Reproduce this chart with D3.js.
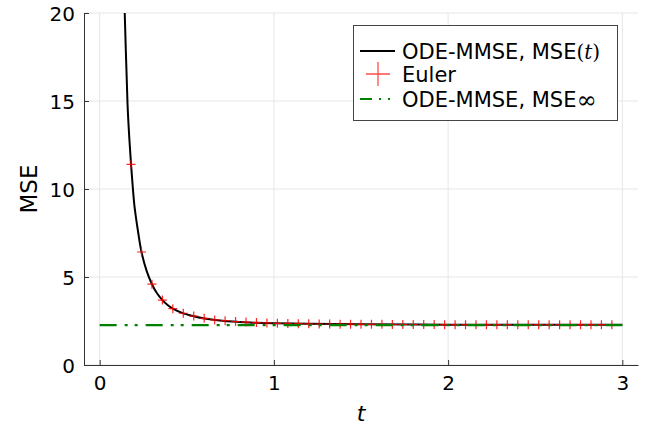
<!DOCTYPE html>
<html>
<head>
<meta charset="utf-8">
<script src="https://cdn.jsdelivr.net/npm/d3@7"></script>
<style>
  body { margin: 0; background: #fff; }
  text { font-family: "DejaVu Sans", sans-serif; }
</style>
</head>
<body>
<script>
// ODE-MMSE curve MSE(t)
const curveT = [0.13, 0.145, 0.16, 0.17, 0.18, 0.19, 0.20, 0.22, 0.24, 0.27, 0.30, 0.33, 0.36, 0.39, 0.42, 0.48, 0.54, 0.60, 0.66, 0.72, 0.80, 0.90, 1.0, 1.2, 1.5, 2.0, 2.5, 3.0];
const curveMSE = [25, 19.6, 14.8, 12.9, 11.4, 10.1, 9.0, 7.6, 6.42, 5.33, 4.59, 4.06, 3.69, 3.41, 3.2, 2.93, 2.77, 2.64, 2.56, 2.5, 2.45, 2.4, 2.37, 2.34, 2.31, 2.29, 2.285, 2.28];

// Euler steps (dt = 0.06)
const eulerT = [0.18, 0.24, 0.30, 0.36, 0.42, 0.48, 0.54, 0.60, 0.66, 0.72, 0.78, 0.84, 0.90, 0.96, 1.02, 1.08, 1.14, 1.20, 1.26, 1.32, 1.38, 1.44, 1.50, 1.56, 1.62, 1.68, 1.74, 1.80, 1.86, 1.92, 1.98, 2.04, 2.10, 2.16, 2.22, 2.28, 2.34, 2.40, 2.46, 2.52, 2.58, 2.64, 2.70, 2.76, 2.82, 2.88, 2.94];
const eulerMSE = [11.4, 6.42, 4.59, 3.69, 3.2, 2.94, 2.78, 2.65, 2.56, 2.52, 2.47, 2.44, 2.41, 2.39, 2.37, 2.36, 2.35, 2.34, 2.33, 2.33, 2.32, 2.32, 2.31, 2.31, 2.31, 2.3, 2.3, 2.3, 2.3, 2.3, 2.29, 2.29, 2.29, 2.29, 2.29, 2.29, 2.29, 2.29, 2.29, 2.29, 2.29, 2.29, 2.29, 2.29, 2.29, 2.29, 2.29];

// asymptote MSE_inf
const infT = [0, 3];
const infMSE = 2.27;

const xTicks = [0, 1, 2, 3];
const yTicks = [0, 5, 10, 15, 20];

let width = 654;
let height = 432;
let margin = { top: 13, right: 16, bottom: 67, left: 84 };

let svg = d3.select("body").append("svg")
  .attr("width", width)
  .attr("height", height);

let xScale = d3.scaleLinear()
  .domain([-0.09, 3.09])
  .range([margin.left, width - margin.right]);
let yScale = d3.scaleLinear()
  .domain([0, 20])
  .range([height - margin.bottom, margin.top]);

svg.append("defs").append("clipPath").attr("id", "clip")
  .append("rect")
  .attr("x", margin.left).attr("y", margin.top)
  .attr("width", width - margin.left - margin.right)
  .attr("height", height - margin.top - margin.bottom);

// grid
let grid = svg.append("g").attr("stroke", "#e6e6e6").attr("stroke-width", 1);
grid.selectAll(".gx").data(xTicks).join("line")
  .attr("x1", d => xScale(d)).attr("x2", d => xScale(d))
  .attr("y1", margin.top).attr("y2", height - margin.bottom);
grid.selectAll(".gy").data(yTicks).join("line")
  .attr("x1", margin.left).attr("x2", width - margin.right)
  .attr("y1", d => yScale(d)).attr("y2", d => yScale(d));

// axes
let xAxis = d3.axisBottom(xScale).tickValues(xTicks).tickFormat(d3.format("d"))
  .tickSizeInner(-5).tickSizeOuter(0).tickPadding(11);
let yAxis = d3.axisLeft(yScale).tickValues(yTicks).tickFormat(d3.format("d"))
  .tickSizeInner(-5).tickSizeOuter(0).tickPadding(9);

svg.append("g")
  .attr("transform", `translate(0, ${height - margin.bottom})`)
  .call(xAxis)
  .call(g => g.select(".domain").attr("stroke", "#333"))
  .call(g => g.selectAll(".tick line").attr("stroke", "#333"))
  .call(g => g.selectAll("text").attr("font-size", 20).attr("fill", "#000").attr("font-family", "DejaVu Sans"));

svg.append("g")
  .attr("transform", `translate(${margin.left}, 0)`)
  .call(yAxis)
  .call(g => g.select(".domain").attr("stroke", "#333"))
  .call(g => g.selectAll(".tick line").attr("stroke", "#333"))
  .call(g => g.selectAll("text").attr("font-size", 20).attr("fill", "#000").attr("font-family", "DejaVu Sans").attr("dy", "0.36em"));

// axis labels
svg.append("text")
  .attr("x", (margin.left + width - margin.right) / 2)
  .attr("y", 421)
  .attr("text-anchor", "middle")
  .attr("font-family", "DejaVu Serif")
  .attr("font-style", "italic")
  .attr("font-size", 22)
  .text("t");

svg.append("text")
  .attr("transform", `translate(37, ${(margin.top + height - margin.bottom) / 2}) rotate(-90)`)
  .attr("text-anchor", "middle")
  .attr("font-size", 23)
  .text("MSE");

let plot = svg.append("g").attr("clip-path", "url(#clip)");

// MSE(t) curve
let line = d3.line()
  .x((d, i) => xScale(curveT[i]))
  .y(d => yScale(d))
  .curve(d3.curveCatmullRom.alpha(0.5));
plot.append("path")
  .attr("d", line(curveMSE))
  .attr("fill", "none")
  .attr("stroke", "#000")
  .attr("stroke-width", 2);

// Euler markers
let cross = 4.5;
let markers = plot.append("g").attr("stroke", "#ff0000").attr("stroke-width", 1.2).attr("stroke-opacity", 0.85);
eulerMSE.forEach((v, i) => {
  let cx = xScale(eulerT[i]), cy = yScale(v);
  markers.append("path")
    .attr("d", `M${cx - cross},${cy}H${cx + cross}M${cx},${cy - cross}V${cy + cross}`);
});

// MSE_inf
plot.append("line")
  .attr("x1", xScale(infT[0])).attr("x2", xScale(infT[1]))
  .attr("y1", yScale(infMSE)).attr("y2", yScale(infMSE))
  .attr("stroke", "#008000")
  .attr("stroke-width", 2.2)
  .attr("stroke-dasharray", "17,8,3,7,3,8");

// legend
let lg = svg.append("g");
lg.append("rect")
  .attr("x", 353.5).attr("y", 25.5)
  .attr("width", 264).attr("height", 95)
  .attr("fill", "#fff").attr("stroke", "#444").attr("stroke-width", 1);

let rows = [51, 74, 99];
lg.append("line").attr("x1", 360).attr("x2", 395).attr("y1", rows[0]).attr("y2", rows[0])
  .attr("stroke", "#000").attr("stroke-width", 2);
lg.append("path")
  .attr("d", `M366,${rows[1]}H390M378,${rows[1] - 12}V${rows[1] + 12}`)
  .attr("stroke", "#ff0000").attr("stroke-opacity", 0.7).attr("stroke-width", 1.3);
lg.append("line").attr("x1", 360).attr("x2", 395).attr("y1", rows[2]).attr("y2", rows[2])
  .attr("stroke", "#008000").attr("stroke-width", 2.2).attr("stroke-dasharray", "12,7,2,7,2,20");

let t1 = lg.append("text").attr("x", 402).attr("y", rows[0]).attr("dy", "0.36em").attr("font-size", 21);
t1.append("tspan").text("ODE-MMSE, MSE");
t1.append("tspan").attr("font-family", "DejaVu Serif").attr("font-size", 20).text("(");
t1.append("tspan").attr("font-family", "DejaVu Serif").attr("font-style", "italic").attr("font-size", 20).text("t");
t1.append("tspan").attr("font-family", "DejaVu Serif").attr("font-size", 20).text(")");

lg.append("text").attr("x", 402).attr("y", rows[1]).attr("dy", "0.36em").attr("font-size", 21).text("Euler");

let t3 = lg.append("text").attr("x", 402).attr("y", rows[2]).attr("dy", "0.36em").attr("font-size", 21);
t3.append("tspan").text("ODE-MMSE, MSE");
t3.append("tspan").attr("font-family", "DejaVu Serif").attr("font-size", 24).attr("dy", "0.05em").text("∞");
</script>
</body>
</html>
